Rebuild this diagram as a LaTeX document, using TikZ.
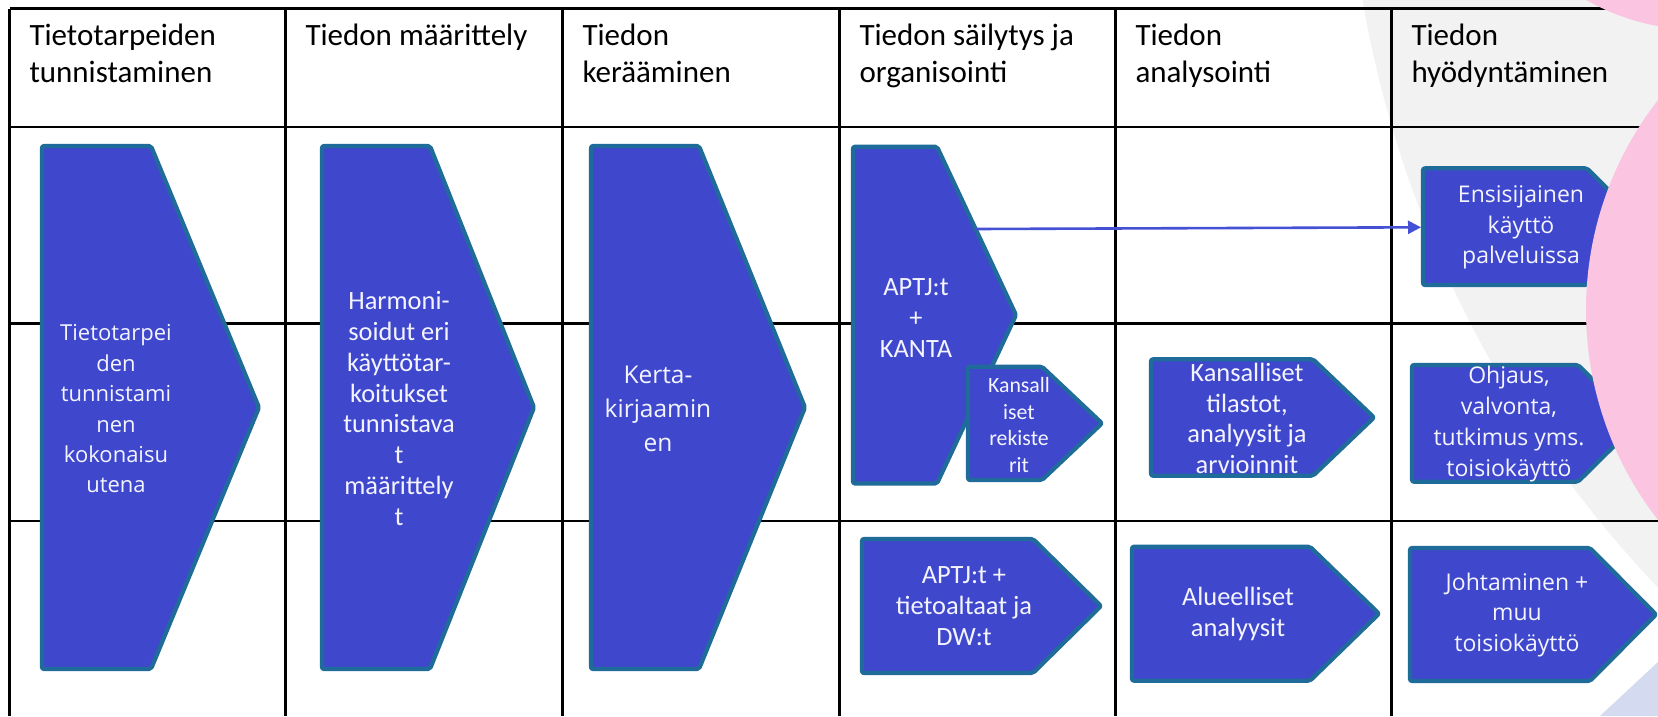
\documentclass[tikz,border=0pt]{standalone}
\usepackage{fontspec}
\setmainfont{Carlito}
\newfontfamily\segoe{Open Sans}
\usetikzlibrary{arrows.meta}
\definecolor{shapefill}{HTML}{3F48CC}
\definecolor{shapeborder}{HTML}{1F6B99}
\definecolor{graybg}{HTML}{F2F2F2}
\definecolor{pinkbg}{HTML}{FBC4E1}
\definecolor{lavbg}{HTML}{D4DAF0}
\definecolor{arrowblue}{HTML}{4451D4}
\definecolor{txtwhite}{HTML}{F4F4FF}
\tikzset{
  shp/.style={fill=shapefill, draw=shapeborder, line width=4.2pt, rounded corners=2pt, line join=round},
  tablines/.style={line width=2.2pt, black},
  hdr/.style={anchor=north west, inner sep=0pt, align=left, font=\fontsize{31}{37}\selectfont},
  ctxt/.style={text=txtwhite, align=center, inner sep=0pt, font=\fontsize{26.4}{30.8}\selectfont},
  stxt/.style={text=txtwhite, align=center, inner sep=0pt, font=\segoe\fontsize{23}{30.8}\selectfont},
  conn/.style={draw=arrowblue, line width=2.6pt, -{Triangle[length=13pt,width=13pt]}}
}
\begin{document}
\begin{tikzpicture}[x=1pt,y=-1pt]
\useasboundingbox (0,0) rectangle (1658,716);
\clip (0,0) rectangle (1658,716);
\fill[white] (0,0) rectangle (1658,716);
% background gray disc
\fill[graybg] (2481,-194) circle[radius=1135pt];
% table lines
\draw[tablines] (9.5,8.5) -- (1658,8.5);
\draw[tablines] (9.5,127) -- (1658,127);
\draw[tablines] (9.5,323.5) -- (1658,323.5);
\draw[tablines] (9.5,521) -- (1658,521);
\foreach \xx in {9.5,285.5,562.5,839.5,1115.5,1391.5}
  \draw[tablines] (\xx,8.5) -- (\xx,716);
% header texts
\node[hdr] (h1) at (29.3,23.5) {Tietotarpeiden\\tunnistaminen};
\node[hdr] (h2) at (305.3,23.5) {Tiedon määrittely};
\node[hdr] (h3) at (582.3,23.5) {Tiedon\\kerääminen};
\node[hdr] (h4) at (859.3,23.5) {Tiedon säilytys ja\\organisointi};
\node[hdr] (h5) at (1135.3,23.5) {Tiedon\\analysointi};
\node[hdr] (h6) at (1411.3,23.5) {Tiedon\\hyödyntäminen};
% shapes
\path[shp] (42,146) -- (151,146) -- (259,407.5) -- (151,669) -- (42,669) -- cycle;
\path[shp] (322,146) -- (430,146) -- (534,407.5) -- (430,669) -- (322,669) -- cycle;
\path[shp] (591,146) -- (699,146) -- (805,407.5) -- (699,669) -- (591,669) -- cycle;
\path[shp] (853,146.7) -- (937,146.7) -- (1016,315) -- (937,483.5) -- (853,483.5) -- cycle;
\path[shp] (968,366.7) -- (1042,366.7) -- (1102,423.3) -- (1042,480) -- (968,480) -- cycle;
\path[shp] (1151,359.3) -- (1313,359.3) -- (1374,417.5) -- (1313,475.7) -- (1151,475.7) -- cycle;
\path[shp] (862,539) -- (1033,539) -- (1101,606) -- (1033,673) -- (862,673) -- cycle;
\path[shp] (1132,546.7) -- (1310,546.7) -- (1379,613.7) -- (1310,680.7) -- (1132,680.7) -- cycle;
\path[shp] (1423,168.3) -- (1587,168.3) -- (1645,226.7) -- (1587,285) -- (1423,285) -- cycle;
\path[shp] (1412,365) -- (1578,365) -- (1637,423.3) -- (1578,481.7) -- (1412,481.7) -- cycle;
\path[shp] (1410,548) -- (1590,548) -- (1656,614.5) -- (1590,681) -- (1410,681) -- cycle;
% connector
\coordinate (aptjedge) at (976,229);
\coordinate (ensleft) at (1421,227.3);
\draw[conn] (aptjedge) -- (ensleft);
% decorative circles
\fill[pinkbg] (1928,310) circle[radius=342pt];
\fill[pinkbg] (1700,-200) circle[radius=230pt];
\fill[lavbg] (1600,716) -- (1658,662) -- (1658,716) -- cycle;
% shape texts
\node[stxt, font=\segoe\fontsize{22}{30.4}\selectfont] (t1) at (116,409) {Tietotarpei\\den\\tunnistami\\nen\\kokonaisu\\utena};
\node[ctxt] (t2) at (399,408.5) {Harmoni-\\soidut eri\\käyttötar-\\koitukset\\tunnistava\\t\\määrittely\\t};
\node[stxt, font=\segoe\fontsize{24.5}{34}\selectfont] (t3) at (658,408.6) {Kerta-\\kirjaamin\\en};
\node[ctxt] (t4) at (916,318) {APTJ:t\\+\\KANTA};
\node[ctxt, font=\fontsize{21.8}{26.4}\selectfont] (t5) at (1019,425) {Kansall\\iset\\rekiste\\rit};
\node[ctxt] (t6) at (1247,418.4) {Kansalliset\\tilastot,\\analyysit ja\\arvioinnit};
\node[ctxt] (t7) at (964,606) {APTJ:t +\\tietoaltaat ja\\DW:t};
\node[ctxt] (t8) at (1238,614) {Alueelliset\\analyysit};
\node[stxt] (t9) at (1521,227.5) {Ensisijainen\\käyttö\\palveluissa};
\node[stxt] (t10) at (1509,424) {Ohjaus,\\valvonta,\\tutkimus yms.\\toisiokäyttö};
\node[stxt] (t11) at (1517,615) {Johtaminen +\\muu\\toisiokäyttö};
\end{tikzpicture}
\end{document}
